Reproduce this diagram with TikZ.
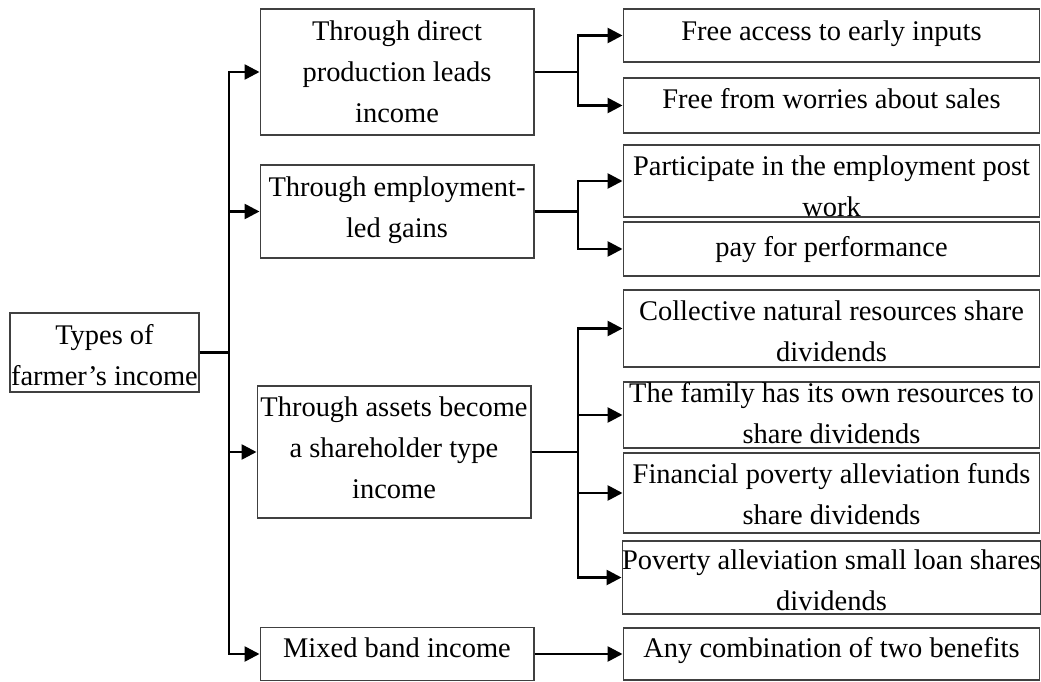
\documentclass[tikz,border=0pt]{standalone}
\usepackage{fontspec}
\setmainfont{Liberation Serif}
\usetikzlibrary{arrows.meta}

% text block of a box, raised by #1 from the middle, not counted in the box size
\newcommand{\boxtxt}[2]{\raisebox{\dimexpr #1-.25em\relax}[0pt][0pt]{\begin{tabular}{@{}c@{}}#2\end{tabular}}}

\tikzset{
	box/.style={draw=black!75, line width=0.6pt, inner sep=0pt, minimum width=#1},
	box/.default=5.48cm,
	line/.style={line width=1.5pt},
	arr/.style={line width=1.5pt, -{Triangle[length=0.3cm,width=0.3cm]}}
}

\begin{document}
\begin{tikzpicture}[x=0.02cm, y=-0.02cm, font=\fontsize{16.2}{23.3}\selectfont]
	\useasboundingbox (0,0) rectangle (1041,682);

	\node[box=3.78cm, minimum height=1.58cm] (root) at (104.5,352.5) {\boxtxt{-0.1cm}{Types of\\farmer’s income}};

	% second column
	\node[box, minimum height=2.52cm] (m1) at (397,72) {\boxtxt{-0.04cm}{Through direct\\production leads\\income}};
	\node[box, minimum height=1.86cm] (m2) at (397,211.5) {\boxtxt{0.04cm}{Through employment-\\led gains}};
	\node[box, minimum height=2.64cm] (m3) at (394,452) {\boxtxt{0.04cm}{Through assets become\\a shareholder type\\income}};
	\node[box, minimum height=1.06cm] (m4) at (397,654) {\boxtxt{0.08cm}{Mixed band income}};

	% third column
	\node[box=8.34cm, minimum height=1.06cm] (r1) at (831.5,35.5) {\boxtxt{0.06cm}{Free access to early inputs}};
	\node[box=8.34cm, minimum height=1.10cm] (r2) at (831.5,105.5) {\boxtxt{0.09cm}{Free from worries about sales}};
	\node[box=8.34cm, minimum height=1.44cm] (r3) at (831.5,181) {\boxtxt{-0.14cm}{Participate in the employment post\\work}};
	\node[box=8.34cm, minimum height=1.08cm] (r4) at (831.5,249) {\boxtxt{0cm}{pay for performance}};
	\node[box=8.34cm, minimum height=1.54cm] (r5) at (831.5,328.5) {\boxtxt{-0.1cm}{Collective natural resources share\\dividends}};
	\node[box=8.34cm, minimum height=1.32cm] (r6) at (831.5,415) {\boxtxt{0cm}{The family has its own resources to\\share dividends}};
	\node[box=8.34cm, minimum height=1.60cm] (r7) at (831.5,493) {\boxtxt{-0.06cm}{Financial poverty alleviation funds\\share dividends}};
	\node[box=8.34cm, minimum height=1.46cm] (r8) at (831.5,577.5) {\boxtxt{-0.1cm}{Poverty alleviation small loan shares\\dividends}};
	\node[box=8.34cm, minimum height=1.04cm] (r9) at (831.5,654) {\boxtxt{0.08cm}{Any combination of two benefits}};

	% branch points
	\coordinate (t) at (229,352.5);%trunk
	\coordinate (b1) at (578,72);
	\coordinate (b2) at (578,211.5);
	\coordinate (b3) at (578,452);

	\draw[line] (root.east) -- (t);
	\draw[arr] (t) |- (m1.west);
	\draw[arr] (t) |- (m2.west);
	\draw[arr] (t) |- (m3.west);
	\draw[arr] (t) |- (m4.west);

	\draw[line] (m1.east) -- (b1);
	\draw[arr] (b1) |- (r1.west);
	\draw[arr] (b1) |- (r2.west);

	\draw[line] (m2.east) -- (b2);
	\draw[arr] (b2) |- (r3.west);
	\draw[arr] (b2) |- (r4.west);

	\draw[line] (m3.east) -- (b3);
	\foreach \r in {r5,r6,r7,r8}
		\draw[arr] (b3) |- (\r.west);

	\draw[arr] (m4.east) -- (r9.west);

\end{tikzpicture}
\end{document}
